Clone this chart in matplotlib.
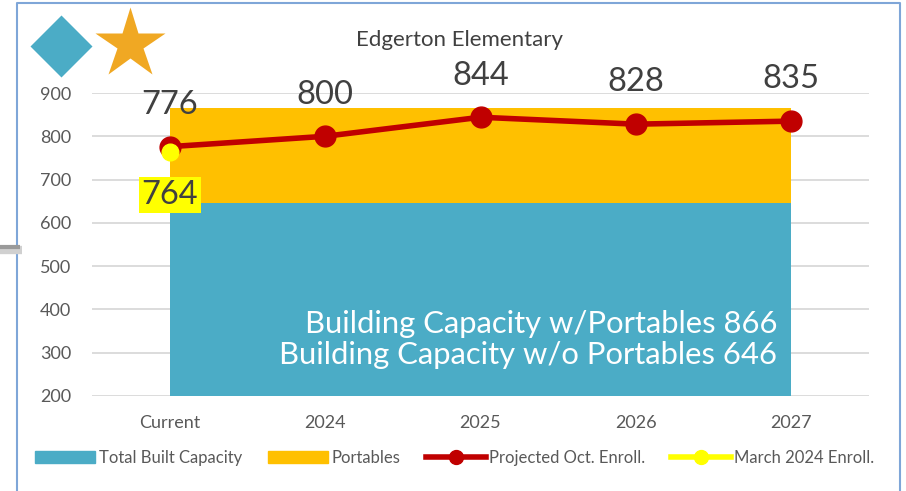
import numpy as np
import matplotlib
matplotlib.use("Agg")
import matplotlib.pyplot as plt
from matplotlib.patches import Patch
from matplotlib.lines import Line2D

plt.rcParams['font.family'] = ['Lato', 'DejaVu Sans']

# data
years = ["Current", "2024", "2025", "2026", "2027"]
built_capacity = [646, 646, 646, 646, 646]
portables = [220, 220, 220, 220, 220]
projected_oct = [776, 800, 844, 828, 835]
march_2024 = [764]

blue = "#4BACC6"
orange = "#FFC000"
red = "#C00000"
yellow = "#FFFF00"
txt = "#404040"
tick_c = "#595959"

W, H = 906, 491
fig = plt.figure(figsize=(W / 100, H / 100), dpi=100)

# decoration layer (frame, shapes)
deco = fig.add_axes([0, 0, 1, 1])
deco.set_xlim(0, W)
deco.set_ylim(H, 0)
deco.axis("off")
deco.plot([17, 17, 900, 900], [H, 3, 3, H], color="#7FA6D8", lw=1.5)
deco.plot([0, 22], [250, 250], color="#D0D0D0", lw=6, solid_capstyle="butt")
deco.plot([0, 20], [247, 247], color="#9A9A9A", lw=3, solid_capstyle="butt")
deco.plot([61], [46], marker="D", ms=32, color=blue, mec="none")
deco.plot([130], [44], marker="*", ms=53, color="#F0A823", mec="none")

x = np.arange(len(years))
ax = fig.add_axes([92 / W, (H - 396) / H, (869 - 92) / W, (396 - 93) / H])
ax.stackplot(x, built_capacity, portables, colors=[blue, orange], zorder=2)
ax.plot(x, projected_oct, color=red, lw=4, marker="o", ms=15, zorder=3)
ax.plot(x[:1], march_2024, color=yellow, lw=4, marker="o", ms=12, ls="none", zorder=4)

for xi, v in zip(x, projected_oct):
    ax.annotate(str(v), (xi, v), xytext=(0, 30), textcoords="offset points",
                ha="center", va="center", fontsize=23.5, color=txt, zorder=5)
ax.annotate(str(march_2024[0]), (0, march_2024[0]), xytext=(0, -31),
            textcoords="offset points", ha="center", va="center", fontsize=23.5,
            color=txt, zorder=5,
            bbox=dict(boxstyle="square,pad=0.08", fc=yellow, ec="none"))

ax.text(4 - 0.09, 330, "Building Capacity w/Portables 866\nBuilding Capacity w/o Portables 646",
        ha="right", va="center", fontsize=22.3, color="white", linespacing=1.15, zorder=5)

ax.set_xlim(-0.5, 4.5)
ax.set_ylim(200, 900)
ax.set_yticks(range(200, 901, 100))
ax.set_xticks(x)
ax.set_xticklabels(years)
ax.grid(axis="y", color="#D9D9D9", lw=1.3, zorder=0)
ax.set_axisbelow(True)
for s in ax.spines.values():
    s.set_visible(False)
ax.tick_params(length=0, colors=tick_c, labelsize=13)
ax.tick_params(axis="x", pad=14)
ax.tick_params(axis="y", pad=15)
ax.patch.set_alpha(0)

fig.text(459 / W, 1 - 40 / H, "Edgerton Elementary", ha="center", va="center",
         fontsize=16, color=txt)

handles = [
    Patch(color=blue, label="Total Built Capacity"),
    Patch(color=orange, label="Portables"),
    Line2D([], [], color=red, lw=4, marker="o", ms=10, label="Projected Oct. Enroll."),
    Line2D([], [], color=yellow, lw=4, marker="o", ms=10, label="March 2024 Enroll."),
]
fig.legend(handles=handles, loc="center", bbox_to_anchor=(455 / W, 1 - 458 / H), ncol=4,
           frameon=False, fontsize=12, handlelength=3.6, handletextpad=0.2,
           columnspacing=1.55, labelcolor=tick_c)

fig.savefig("out.png", dpi=100)
